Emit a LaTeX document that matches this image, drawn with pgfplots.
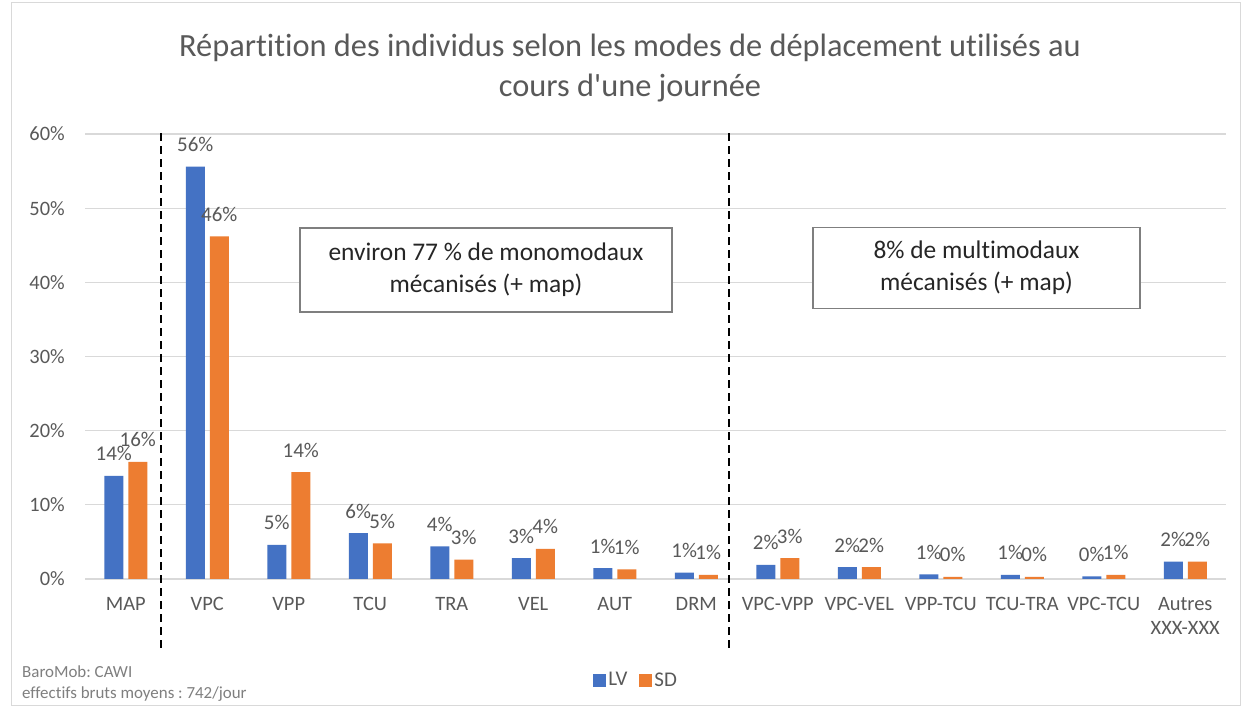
\documentclass[border=0pt]{standalone}
\usepackage{fontspec}
\setmainfont{Carlito}[Ligatures={TeXOff,NoCommon}]
\usepackage{pgfplots}
\usepackage{pgfplotstable}
\pgfplotsset{compat=1.18}
\frenchspacing
\definecolor{lvblue}{HTML}{4472C4}
\definecolor{sdorange}{HTML}{ED7D31}
\definecolor{txtgray}{HTML}{595959}
\definecolor{gridgray}{HTML}{D9D9D9}
\definecolor{boxgray}{HTML}{7F7F7F}
\definecolor{darktxt}{HTML}{262626}

\pgfplotstableread{
x lv sd
0 13.9 15.8
1 55.6 46.2
2 4.6 14.4
3 6.2 4.8
4 4.4 2.6
5 2.8 4.05
6 1.45 1.3
7 0.85 0.54
8 1.9 2.8
9 1.6 1.6
10 0.63 0.27
11 0.55 0.27
12 0.36 0.55
13 2.35 2.35
}\datatable

\begin{document}
\begin{tikzpicture}[x=1bp,y=1bp]
\useasboundingbox (0,0) rectangle (1251,709);
\fill[white] (0,0) rectangle (1251,709);
\draw[gridgray, line width=1bp] (11,3) rectangle (1240,706);
\node[align=center, text=txtgray, font=\fontsize{32.5}{40}\selectfont] at (630,641)
  {Répartition des individus selon les modes de déplacement utilisés au\\cours d'une journée};
\begin{axis}[
  at={(85bp,130bp)}, anchor=south west,
  scale only axis, width=1141bp, height=445bp,
  xmin=-0.5, xmax=13.5, ymin=0, ymax=60,
  ybar=5bp, bar width=19bp,
  axis line style={draw=none},
  major tick length=0pt,
  ymajorgrids, grid style={gridgray, line width=1.2bp},
  ytick={0,10,...,60},
  yticklabel={\pgfmathprintnumber{\tick}\%},
  yticklabel style={anchor=east, inner sep=0pt, xshift=-20bp, text=txtgray, font=\fontsize{20.5}{24}\selectfont},
  /pgf/number format/assume math mode=true,
  xtick={0,...,13},
  xticklabels={MAP,VPC,VPP,TCU,TRA,VEL,AUT,DRM,VPC-VPP,VPC-VEL,VPP-TCU,TCU-TRA,VPC-TCU,{Autres\\XXX-XXX}},
  xticklabel style={anchor=north, inner sep=0pt, yshift=-18bp, align=center, text=txtgray, font=\fontsize{20.5}{24}\selectfont},
  nodes near coords={\pgfmathprintnumber[fixed,precision=0]{\pgfplotspointmeta}\%},
  every node near coord/.append style={anchor=base, yshift=15bp, inner sep=0pt, text=txtgray, font=\fontsize{21}{24}\selectfont},
  clip=false,
  legend style={at={(0.483,-0.227)}, anchor=center, draw=none, fill=none,
    legend columns=2, font=\fontsize{21}{24}\selectfont, text=txtgray,
    /tikz/every even column/.append style={column sep=10bp}},
  legend image code/.code={\fill[#1] (0bp,-6.5bp) rectangle (13bp,6.5bp);},
]
\addplot[fill=lvblue, draw=none] table[x=x, y=lv] {\datatable};
\addplot[fill=sdorange, draw=none] table[x=x, y=sd] {\datatable};
\legend{LV,SD}
\draw[black, line width=2bp, dash pattern=on 8bp off 5bp] (axis cs:0.43,-9.3) -- (axis cs:0.43,60.5);
\draw[black, line width=2bp, dash pattern=on 8bp off 5bp] (axis cs:7.40,-9.3) -- (axis cs:7.40,60.5);
\end{axis}
\node[draw=boxgray, line width=1.3bp, fill=white, minimum width=372bp, minimum height=84bp,
  align=center, text=darktxt, font=\fontsize{25.5}{32}\selectfont] at (486,439)
  {environ 77 \% de monomodaux\\mécanisés (+ map)};
\node[draw=boxgray, line width=1.3bp, fill=white, minimum width=327bp, minimum height=81bp,
  align=center, text=darktxt, font=\fontsize{25.5}{32}\selectfont] at (976.5,441)
  {8\% de multimodaux\\mécanisés (+ map)};
\node[anchor=west, text=boxgray, font=\fontsize{17}{20}\selectfont, inner sep=0pt] at (22,37) {BaroMob: CAWI};
\node[anchor=west, text=boxgray, font=\fontsize{17}{20}\selectfont, inner sep=0pt] at (22,15) {effectifs bruts moyens : 742/jour};
\end{tikzpicture}
\end{document}
